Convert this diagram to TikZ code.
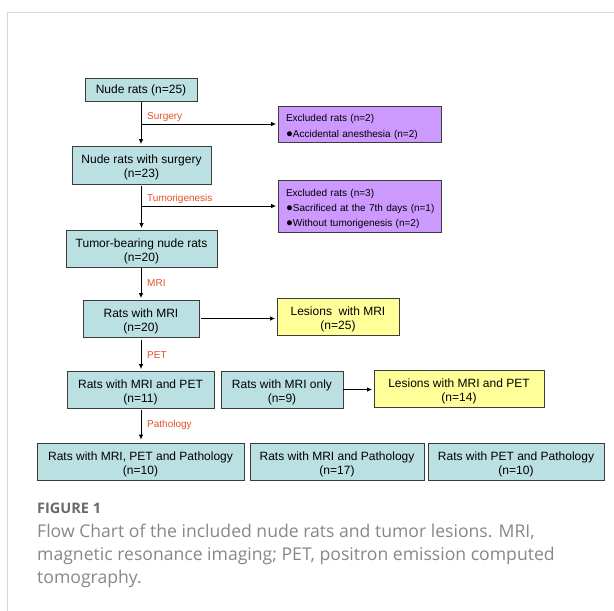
\documentclass[tikz,border=0pt]{standalone}
\usepackage{fontspec}
\setmainfont{Liberation Sans}
\newfontfamily\capfont{Open Sans}
\usetikzlibrary{arrows.meta}
\definecolor{tealbox}{RGB}{187,224,226}
\definecolor{purplebox}{RGB}{204,153,255}
\definecolor{yellowbox}{RGB}{255,255,153}
\definecolor{labred}{RGB}{228,80,40}
\definecolor{framegray}{RGB}{215,215,215}
\definecolor{capgray}{RGB}{135,135,135}
\definecolor{figgray}{RGB}{105,105,105}
\definecolor{edgegray}{RGB}{60,60,60}
\newcommand{\bul}{\hspace*{4.5pt}{\fontsize{11.5}{12}\selectfont ●}}
\newcommand{\exl}{\hspace*{4.5pt}}
\newcommand{\fst}{\rule{0pt}{14pt}}
\begin{document}
\begin{tikzpicture}[x=1pt,y=-1pt,
  box/.style={draw=edgegray, line width=0.9pt, fill=tealbox, inner sep=0pt, align=center,
    font=\fontsize{12}{14.3}\selectfont},
  ybox/.style={box, fill=yellowbox},
  exbox/.style={draw=edgegray, line width=0.9pt, fill=purplebox, inner xsep=3.5pt, inner ysep=0pt,
    text width=156pt, align=left, font=\fontsize{10}{15.3}\selectfont,
    execute at begin node={\rule{0pt}{13pt}}},
  arr/.style={line width=0.8pt, -{Latex[length=5pt,width=4.5pt]}, shorten >=1.5pt},
  lab/.style={text=labred, font=\fontsize{10}{12}\selectfont, inner sep=0pt, anchor=west},
  capt/.style={text=capgray, font=\capfont\fontsize{17.6}{20}\selectfont, inner sep=0pt, anchor=base west},
  frameline/.style={draw=framegray, line width=1.5pt}
]
\useasboundingbox (0,0) rectangle (614,611);
% frame
\draw[frameline] (7.5,611) -- (7.5,12.5) -- (614,12.5);

% boxes
\node[box, minimum width=112pt, minimum height=23pt] (n25) at (141,90) {Nude rats (n=25)};
\node[exbox, minimum height=36pt] (ex1) at (359.5,124) {\exl Excluded rats (n=2)\\\bul Accidental anesthesia (n=2)};
\node[box, minimum width=139pt, minimum height=38pt] (surg) at (141.5,165) {\fst Nude rats with surgery\\(n=23)};
\node[exbox, minimum height=52pt] (ex2) at (359.5,206) {\exl Excluded rats (n=3)\\\bul Sacrificed at the 7th days (n=1)\\\bul Without tumorigenesis (n=2)};
\node[box, minimum width=151pt, minimum height=37pt] (tumor) at (141.5,248.5) {\fst Tumor-bearing nude rats\\(n=20)};
\node[box, minimum width=116pt, minimum height=37pt] (mri) at (141,318.5) {\fst Rats with MRI\\(n=20)};
\node[ybox, minimum width=122pt, minimum height=37pt] (lesmri) at (338,316.5) {\fst Lesions\ \ with MRI\\(n=25)};
\node[box, minimum width=147pt, minimum height=37pt] (mripet) at (140.5,389.5) {\fst Rats with MRI and PET\\(n=11)};
\node[box, minimum width=122pt, minimum height=37pt] (mrionly) at (282,389.5) {\fst Rats with MRI only\\(n=9)};
\node[ybox, minimum width=170pt, minimum height=37pt] (lespet) at (459,388.5) {\fst Lesions with MRI and PET\\(n=14)};
\node[box, minimum width=207pt, minimum height=37pt] (b1) at (140.5,461.5) {\fst Rats with MRI, PET and Pathology\\(n=10)};
\node[box, minimum width=174pt, minimum height=37pt] (b2) at (337,461.5) {\fst Rats with MRI and Pathology\\(n=17)};
\node[box, minimum width=176pt, minimum height=37pt] (b3) at (516,461.5) {\fst Rats with PET and Pathology\\(n=10)};

% branch points
\coordinate (br1) at (n25.south |- ex1.west);
\coordinate (br2) at (n25.south |- ex2.west);

% connectors
\draw[arr] (n25.south) -- (n25.south |- surg.north);
\draw[arr] (br1) -- (ex1.west);
\draw[arr, shorten <=1.5pt] (surg.south) -- (surg.south |- tumor.north);
\draw[arr] (br2) -- (ex2.west);
\draw[arr, shorten <=1pt] (n25.south |- tumor.south) -- (n25.south |- mri.north);
\draw[arr, shorten <=2pt] (mri.east) -- (mri.east -| lesmri.west);
\draw[arr, shorten <=2.5pt] (n25.south |- mri.south) -- (n25.south |- mripet.north);
\draw[arr] (mrionly.east) -- (mrionly.east -| lespet.west);
\draw[arr, shorten <=2pt, shorten >=3pt] (n25.south |- mripet.south) -- (n25.south |- b1.north);

% labels
\node[lab] (lsurg) at (147,117) {Surgery};
\node[lab] (ltum) at (147,198.5) {Tumorigenesis};
\node[lab] (lmri) at (147,283) {MRI};
\node[lab] (lpet) at (147,355) {PET};
\node[lab] (lpath) at (147,425) {Pathology};

% caption
\node[text=figgray, font=\capfont\bfseries\fontsize{14.5}{16}\selectfont, inner sep=0pt, anchor=base west] (fig) at (37,513) {FIGURE 1};
\node[capt] (c1) at (37,537.5) {Flow Chart of the included nude rats and tumor lesions. MRI,};
\node[capt] (c2) at (37,560.5) {magnetic resonance imaging; PET, positron emission computed};
\node[capt] (c3) at (37,583.5) {tomography.};
\end{tikzpicture}
\end{document}
